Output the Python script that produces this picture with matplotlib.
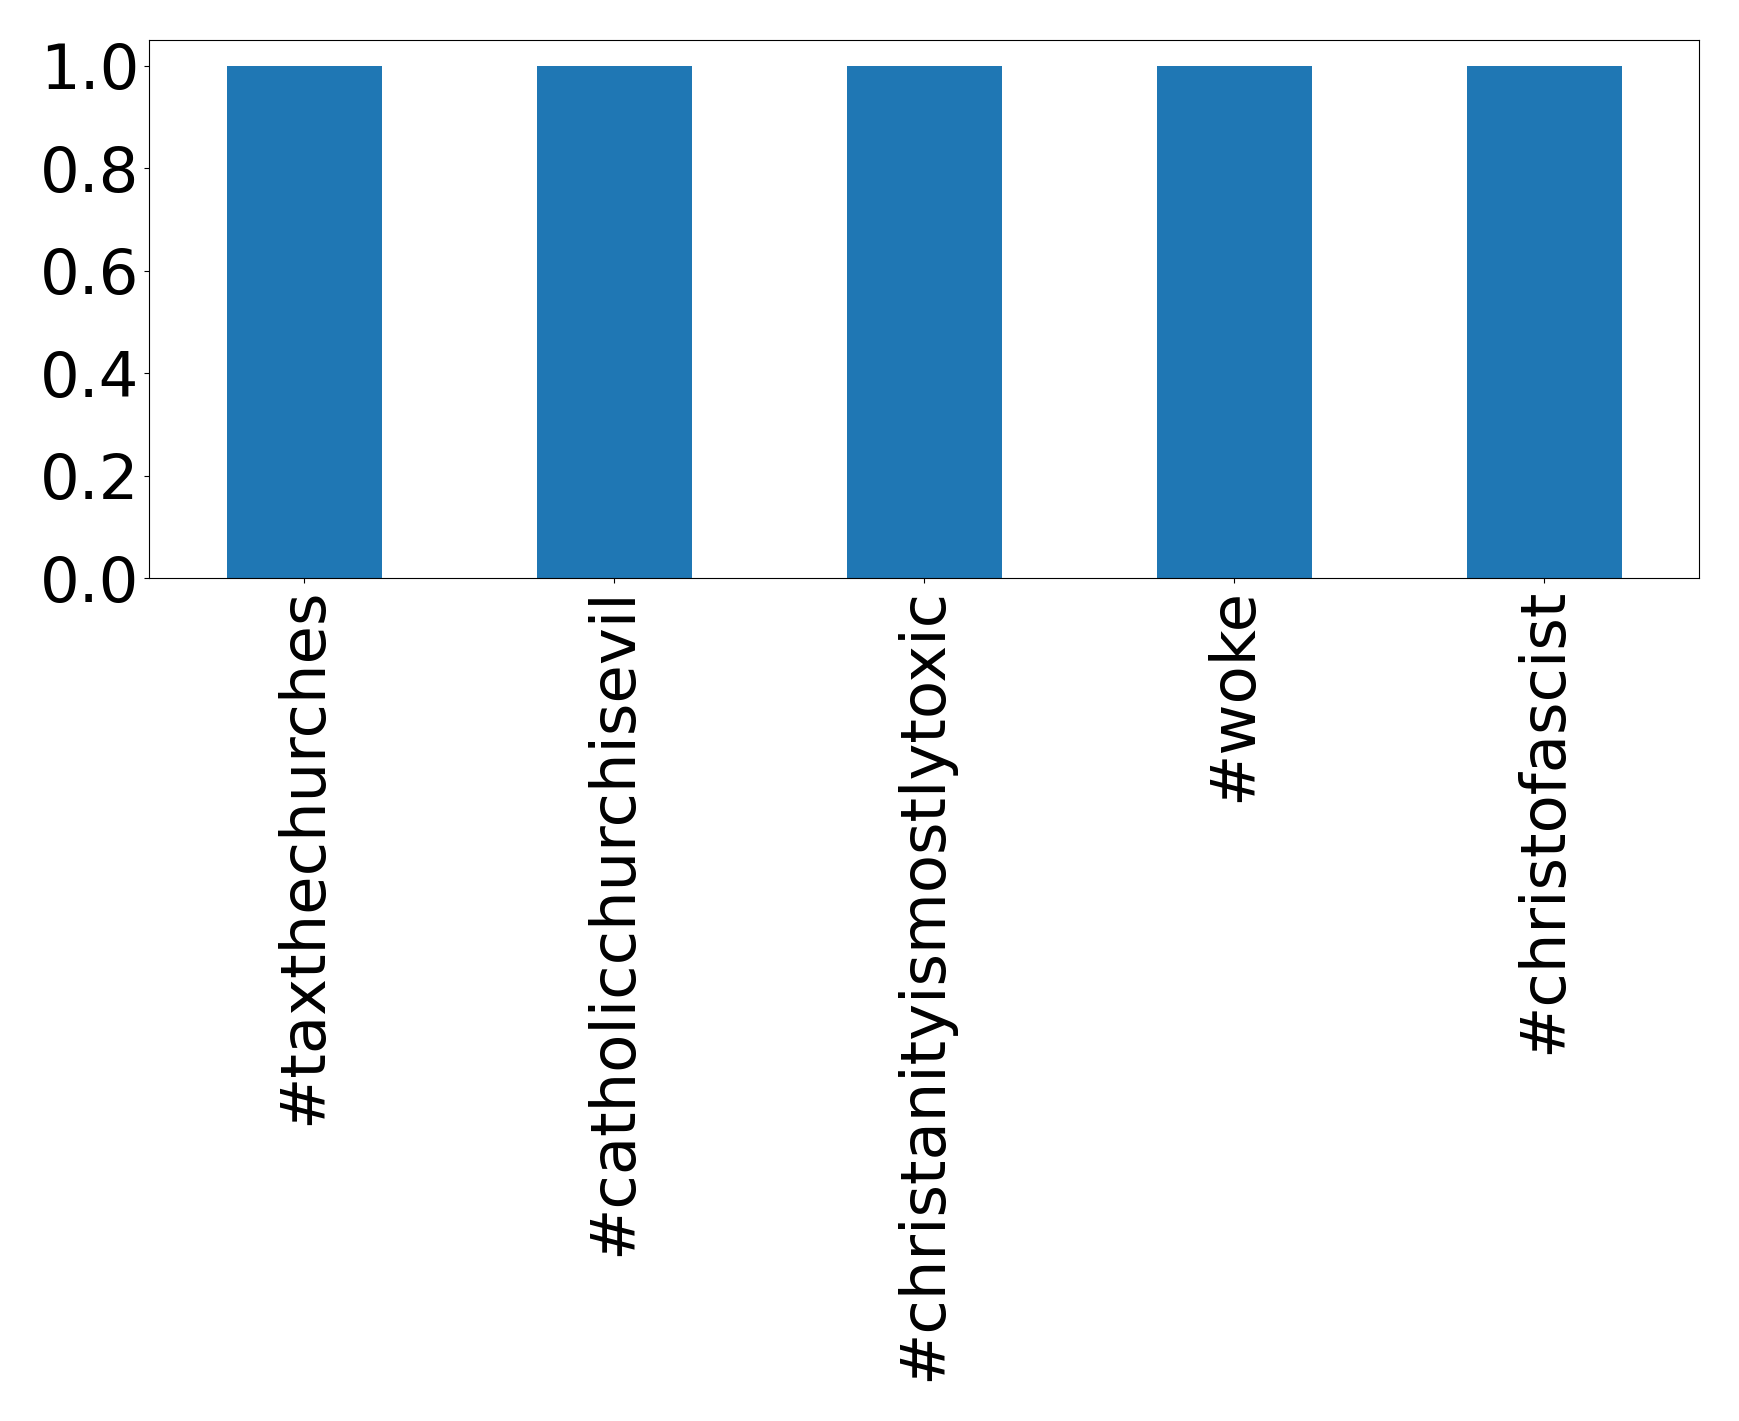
import matplotlib
matplotlib.use("Agg")
import matplotlib.pyplot as plt

categories = ["#taxthechurches", "#catholicchurchisevil", "#christanityismostlytoxic", "#woke", "#christofascist"]
values = [1, 1, 1, 1, 1]

fig = plt.figure(figsize=(17.39, 14.21), dpi=100)
ax = fig.add_axes([0.0857, 0.5932, 0.977 - 0.0857, 0.9719 - 0.5932])
x = list(range(len(categories)))
ax.bar(x, values, width=0.5, color="#1f77b4")
ax.set_xlim(-0.5, len(categories) - 0.5)
ax.set_ylim(0, 1.05)
ax.set_xticks(x)
ax.set_xticklabels(categories, rotation=90, fontsize=45)
ax.set_yticks([0.0, 0.2, 0.4, 0.6, 0.8, 1.0])
ax.set_yticklabels(["0.0", "0.2", "0.4", "0.6", "0.8", "1.0"], fontsize=45)
fig.savefig("out.png", dpi=100)
